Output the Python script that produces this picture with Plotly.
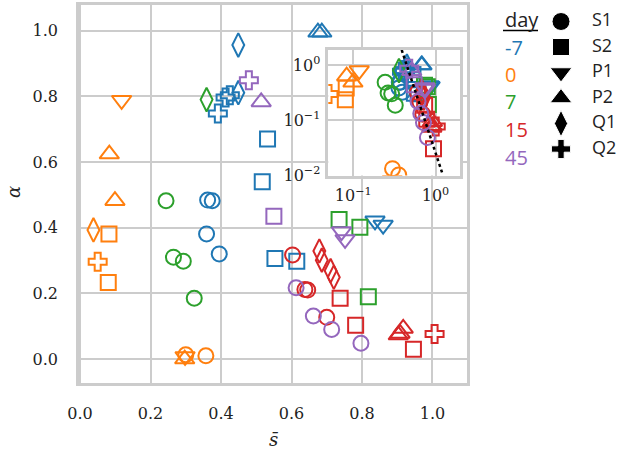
import plotly.graph_objects as go

# ---------------- data ----------------
DAYS = ["-7", "0", "7", "15", "45"]
DAY_COLORS = ["#1f77b4", "#ff7f0e", "#2ca02c", "#d62728", "#9467bd"]
KINDS = ["S1", "S2", "P1", "P2", "Q1", "Q2"]

# day -7
S_M7 = [0.449, 0.449, 0.413, 0.425, 0.391, 0.675, 0.686, 0.532, 0.517,
        0.362, 0.375, 0.359, 0.395, 0.553, 0.615, 0.837, 0.860]
A_M7 = [0.956, 0.811, 0.796, 0.803, 0.748, 0.995, 0.995, 0.670, 0.540,
        0.484, 0.482, 0.381, 0.320, 0.306, 0.298, 0.421, 0.408]
K_M7 = ["Q1", "Q1", "Q2", "Q2", "Q2", "P2", "P2", "S2", "S2",
        "S1", "S1", "S1", "S1", "S2", "S2", "P1", "P1"]

# day 0
S_D0 = [0.118, 0.083, 0.099, 0.038, 0.082, 0.050, 0.080, 0.300, 0.298, 0.297, 0.357]
A_D0 = [0.788, 0.624, 0.482, 0.393, 0.381, 0.296, 0.233, 0.013, 0.008, 0.000, 0.010]
K_D0 = ["P1", "P2", "P2", "Q1", "S2", "Q2", "S2", "S1", "P1", "P2", "S1"]

# day 7
S_D7 = [0.359, 0.244, 0.265, 0.293, 0.324, 0.735, 0.794, 0.818]
A_D7 = [0.790, 0.482, 0.310, 0.298, 0.185, 0.425, 0.401, 0.190]
K_D7 = ["Q1", "S1", "S1", "S1", "S1", "S2", "S2", "S2"]

# day 15
S_D15 = [0.603, 0.679, 0.686, 0.711, 0.720, 0.638, 0.646, 0.738, 0.700,
         0.782, 0.917, 0.908, 0.903, 1.006, 0.946]
A_D15 = [0.317, 0.329, 0.301, 0.269, 0.249, 0.212, 0.210, 0.185, 0.127,
         0.103, 0.093, 0.078, 0.073, 0.076, 0.030]
K_D15 = ["S1", "Q1", "Q1", "Q1", "Q1", "S1", "S1", "S2", "S1",
         "S2", "P2", "P2", "P2", "Q2", "S2"]

# day 45
S_D45 = [0.479, 0.514, 0.550, 0.742, 0.752, 0.613, 0.662, 0.714, 0.797]
A_D45 = [0.849, 0.783, 0.435, 0.388, 0.364, 0.217, 0.131, 0.090, 0.048]
K_D45 = ["Q2", "P2", "S2", "P1", "P1", "S1", "S1", "S1", "S1"]

# dotted reference line in the inset
CURVE_S = [0.388, 0.563, 1.21]
CURVE_A = [1.87, 0.341, 0.0107]

X_TICKS = [0.0, 0.2, 0.4, 0.6, 0.8, 1.0]
Y_TICKS = [0.0, 0.2, 0.4, 0.6, 0.8, 1.0]
INSET_X_TICKS = [0.1, 1.0]
INSET_X_LABELS = ["10<sup>\u22121</sup>", "10<sup>0</sup>"]
INSET_Y_TICKS = [0.01, 0.1, 1.0]
INSET_Y_LABELS = ["10<sup>\u22122</sup>", "10<sup>\u22121</sup>", "10<sup>0</sup>"]

# ---------------- styling ----------------
OPEN_SYM = {"S1": "circle-open", "S2": "square-open", "P1": "triangle-down-open",
            "P2": "triangle-up-open", "Q1": "diamond-tall-open", "Q2": "cross-open"}
FILL_SYM = {"S1": "circle", "S2": "square", "P1": "triangle-down",
            "P2": "triangle-up", "Q1": "diamond-tall", "Q2": "cross"}
SIZE = {"S1": 15, "S2": 15, "P1": 17, "P2": 17, "Q1": 17, "Q2": 15}
LEG_SIZE = {"S1": 18, "S2": 17, "P1": 19, "P2": 19, "Q1": 19, "Q2": 16}

GRID = "#cccccc"
SERIF = "DejaVu Serif"
SANS = "Open Sans"
TXT = "#222222"

SERIES = [(S_M7, A_M7, K_M7), (S_D0, A_D0, K_D0), (S_D7, A_D7, K_D7),
          (S_D15, A_D15, K_D15), (S_D45, A_D45, K_D45)]

fig = go.Figure()

for axes in (("x", "y"), ("x3", "y3")):
    for (xs, ys, ks), col, day in zip(SERIES, DAY_COLORS, DAYS):
        marker = dict(symbol=[OPEN_SYM[k] for k in ks], size=[SIZE[k] for k in ks],
                      color=col, opacity=1, line=dict(color=col, width=2))
        fig.add_trace(go.Scatter(x=xs, y=ys, mode="markers", marker=marker,
                                 name=day, showlegend=False,
                                 xaxis=axes[0], yaxis=axes[1]))

fig.add_trace(go.Scatter(x=CURVE_S, y=CURVE_A, mode="lines",
                         line=dict(color="black", width=2.5, dash="dot"),
                         showlegend=False, xaxis="x3", yaxis="y3"))

# shape legend (drawn on a hidden helper axis)
rows = list(range(len(KINDS)))
fig.add_trace(go.Scatter(x=[16] * len(KINDS), y=rows, mode="markers",
                         marker=dict(symbol=[FILL_SYM[k] for k in KINDS], opacity=1,
                                     size=[LEG_SIZE[k] for k in KINDS], color="black"),
                         showlegend=False, xaxis="x4", yaxis="y4", cliponaxis=False))
fig.add_trace(go.Scatter(x=[47] * len(KINDS), y=rows, mode="text", text=KINDS,
                         textposition="middle right",
                         textfont=dict(family=SANS, size=18, color=TXT),
                         showlegend=False, xaxis="x4", yaxis="y4", cliponaxis=False))

W, H = 539.0, 378.0  # plot area in px (l=79, t=5)
def px(x):
    return (x - 79) / W
def py(y):
    return (383 - y) / H

main_ax = dict(showgrid=True, gridcolor=GRID, gridwidth=2, showline=True, mirror=True,
               linecolor=GRID, linewidth=2.5, zeroline=False, ticks="",
               tickfont=dict(family=SERIF, size=16, color=TXT))

fig.update_layout(
    width=618, height=450, autosize=False,
    margin=dict(l=79, r=0, t=5, b=67, pad=0),
    paper_bgcolor="white", plot_bgcolor="white",
    xaxis=dict(domain=[0, px(467)], range=[-0.003, 1.098], tickvals=X_TICKS,
               ticktext=[f"{v:.1f}" for v in X_TICKS], anchor="y",
               ticklabelstandoff=14, **main_ax),
    yaxis=dict(domain=[0, 1], range=[-0.073, 1.078], tickvals=Y_TICKS,
               ticktext=[f"{v:.1f}" for v in Y_TICKS], anchor="x",
               ticklabelstandoff=15, **main_ax),
    xaxis2=dict(domain=[px(280), px(468)], range=[0, 1], anchor="y2", showgrid=False,
                zeroline=False, showticklabels=False, ticks="", showline=True, mirror=True,
                linecolor="#c4c4c4", linewidth=2),
    yaxis2=dict(domain=[py(201), py(43)], range=[0, 1], anchor="x2", showgrid=False,
                zeroline=False, showticklabels=False, ticks="", showline=True, mirror=True,
                linecolor="#c4c4c4", linewidth=2),
    xaxis3=dict(domain=[px(328.3), px(460)], type="log", range=[-1.304, 0.298],
                anchor="y3", tickvals=INSET_X_TICKS, ticktext=INSET_X_LABELS,
                ticklabelstandoff=4, **main_ax),
    yaxis3=dict(domain=[py(175.5), py(49.5)], type="log", range=[-2.01, 0.28],
                anchor="x3", tickvals=INSET_Y_TICKS, ticktext=INSET_Y_LABELS,
                ticklabelstandoff=2, **main_ax),
    xaxis4=dict(domain=[px(545), 1.0], range=[0, 73], anchor="y4", visible=False),
    yaxis4=dict(domain=[py(161.75), py(8.75)], range=[5.5, -0.5], anchor="x4", visible=False),
)

annotations = [
    dict(text="<i>\u03b1</i>", x=px(14), y=py(192), xref="paper", yref="paper",
         xanchor="center", yanchor="middle",
         showarrow=False, textangle=-90, font=dict(family=SERIF, size=18, color=TXT)),
    dict(text="<i>s\u0304</i>", x=px(273), y=py(440), xref="paper", yref="paper",
         xanchor="center", yanchor="middle",
         showarrow=False, font=dict(family=SERIF, size=18, color=TXT)),
    dict(text="day", x=px(503), y=py(19), xref="paper", yref="paper", xanchor="left",
         yanchor="middle", showarrow=False, font=dict(family=SANS, size=20, color=TXT)),
]
DAY_ROWS_PX = [47, 74, 101, 129, 157]
for day, col, ypx in zip(DAYS, DAY_COLORS, DAY_ROWS_PX):
    annotations.append(dict(text=day, x=px(503), y=py(ypx), xref="paper", yref="paper",
                            xanchor="left", yanchor="middle", showarrow=False,
                            font=dict(family=SANS, size=20, color=col)))
fig.update_layout(annotations=annotations)
fig.add_shape(type="line", xref="paper", yref="paper", x0=px(503), x1=px(538),
              y0=py(30.5), y1=py(30.5), line=dict(color="black", width=1.5))

fig.write_html("out.html")
